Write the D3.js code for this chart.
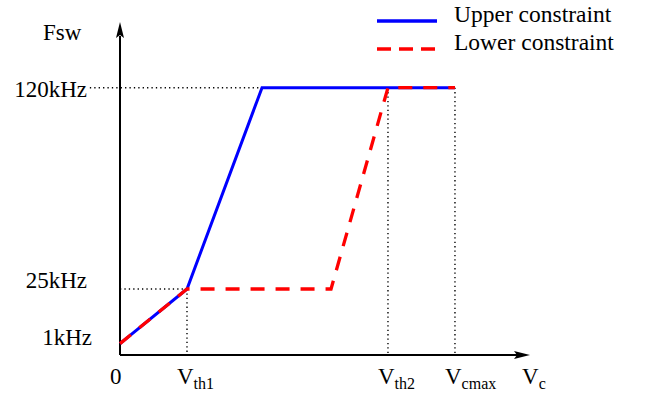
<!DOCTYPE html>
<html>
<head>
<meta charset="utf-8">
<script src="https://cdn.jsdelivr.net/npm/d3@7"></script>
<style>
  body { margin: 0; background: #fff; }
  text { font-family: 'Liberation Serif', 'DejaVu Serif', serif; fill: #000; }
</style>
</head>
<body>
<div id="grafica"></div>
<script>
// datos (Vc en unidades relativas, Fsw en kHz)
upperVc  = [0, 1, 2.12, 5]
upperFsw = [1, 25, 120, 120]
lowerVc  = [0, 1, 3.15, 4, 5]
lowerFsw = [1, 25, 25, 120, 120]

yTicks      = [120, 25, 1]
yTickLabels = ['120kHz', '25kHz', '1kHz']
xTicks      = [0, 1, 4, 5]
xTickMain   = ['0', 'V', 'V', 'V']
xTickSub    = ['', 'th1', 'th2', 'cmax']
seriesNames = ['Upper constraint', 'Lower constraint']

ancho_total = 645
alto_total  = 395
margin = { left: 120, right: 115, top: 22, bottom: 40 }

ancho = ancho_total - margin.left - margin.right
alto  = alto_total - margin.top - margin.bottom

svg = d3
        .select('#grafica')
        .append('svg')
        .attr('width', ancho_total)
        .attr('height', alto_total)

g = svg
      .append('g')
      .attr('transform', 'translate(' + margin.left + ',' + margin.top + ')')

// escaladores (esquematicos)
x = d3
      .scaleLinear()
      .domain([0, 6.12])
      .range([0, ancho])
y = d3
      .scaleLinear()
      .domain([-4, 25, 151])
      .range([alto, alto - 66, 0])

// lineas punteadas de referencia
guias = [
  [[-0.45, 120], [upperVc[2], 120]],
  [[0, 25], [1, 25]],
  [[1, 25], [1, -4]],
  [[4, 120], [4, -4]],
  [[5, 120], [5, -4]]
]
linea = d3.line().x((d) => x(d[0])).y((d) => y(d[1]))

g.selectAll('.guia')
  .data(guias)
  .enter()
  .append('path')
  .attr('class', 'guia')
  .attr('d', linea)
  .attr('fill', 'none')
  .attr('stroke', '#000')
  .attr('stroke-width', 1.4)
  .attr('stroke-dasharray', '1.3,3.1')

// ejes con flecha
g.append('line')
  .attr('x1', x(0)).attr('y1', alto)
  .attr('x2', x(0)).attr('y2', 14)
  .attr('stroke', '#000').attr('stroke-width', 2)
g.append('line')
  .attr('x1', x(0)).attr('y1', alto)
  .attr('x2', ancho - 12).attr('y2', alto)
  .attr('stroke', '#000').attr('stroke-width', 2)

g.append('path')
  .attr('d', `M${x(0)},0 L${x(0) + 4},16 L${x(0)},13 L${x(0) - 4},16 Z`)
  .attr('fill', '#000')
g.append('path')
  .attr('d', `M${ancho},${alto} L${ancho - 16},${alto - 4} L${ancho - 13},${alto} L${ancho - 16},${alto + 4} Z`)
  .attr('fill', '#000')

// series
upperData = upperVc.map((v, i) => [v, upperFsw[i]])
lowerData = lowerVc.map((v, i) => [v, lowerFsw[i]])

g.append('path')
  .datum(upperData)
  .attr('d', linea)
  .attr('fill', 'none')
  .attr('stroke', '#0000ff')
  .attr('stroke-width', 3)

g.append('path')
  .datum(lowerData)
  .attr('d', linea)
  .attr('fill', 'none')
  .attr('stroke', '#ff0000')
  .attr('stroke-width', 3.3)
  .attr('stroke-dasharray', '14,11')

// etiquetas eje Y
g.selectAll('.ylab')
  .data(yTicks)
  .enter()
  .append('text')
  .attr('class', 'ylab')
  .attr('x', (d) => d == 1 ? -28 : -33)
  .attr('y', (d) => y(d) + (d == 120 ? 9 : d == 25 ? -1 : 1))
  .attr('text-anchor', 'end')
  .attr('font-size', '23px')
  .text((d, i) => yTickLabels[i])

g.append('text')
  .attr('x', -77)
  .attr('y', 18)
  .attr('font-size', '23px')
  .text('Fsw')

// etiquetas eje X
xlab = g.selectAll('.xlab')
  .data(xTicks)
  .enter()
  .append('text')
  .attr('class', 'xlab')
  .attr('x', (d) => x(d) - 10)
  .attr('y', alto + 29)
  .attr('font-size', '23px')
xlab.append('tspan').text((d, i) => xTickMain[i])
xlab.append('tspan')
  .attr('font-size', '16px')
  .attr('dy', 5)
  .text((d, i) => xTickSub[i])

vc = g.append('text')
  .attr('x', ancho - 8)
  .attr('y', alto + 29)
  .attr('font-size', '23px')
vc.append('tspan').text('V')
vc.append('tspan').attr('font-size', '16px').attr('dy', 5).text('c')

// leyenda
leyenda = svg
  .append('g')
  .attr('transform', 'translate(377, 21)')

leyenda.selectAll('line')
  .data(seriesNames)
  .enter()
  .append('line')
  .attr('x1', 0).attr('x2', 60)
  .attr('y1', (d, i) => i * 28).attr('y2', (d, i) => i * 28)
  .attr('stroke', (d, i) => i == 0 ? '#0000ff' : '#ff0000')
  .attr('stroke-width', 3.3)
  .attr('stroke-dasharray', (d, i) => i == 0 ? null : '14,8')

leyenda.selectAll('text')
  .data(seriesNames)
  .enter()
  .append('text')
  .attr('x', 77)
  .attr('y', (d, i) => i * 28 + 1)
  .attr('font-size', '23.5px')
  .text((d) => d)
</script>
</body>
</html>
